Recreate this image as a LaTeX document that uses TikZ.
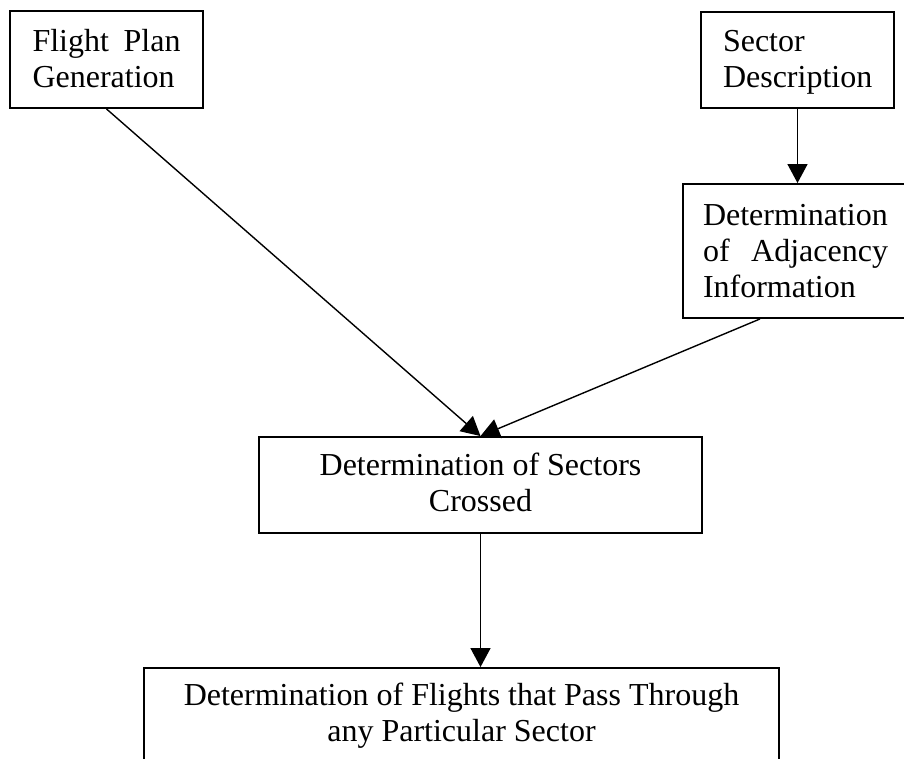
\documentclass[tikz,border=0pt]{standalone}
\usepackage{fontspec}
\setmainfont{Liberation Serif}
\usetikzlibrary{arrows.meta}
\setlength\parindent{0pt}
% uniform line height/depth so every box centres its text the same way
\newcommand\boxstrut{\rule[-5pt]{0pt}{31pt}}
\tikzset{
  procbox/.style={draw=black, line width=1.9pt, rectangle, inner sep=0pt,
    font=\fontsize{32}{36}\selectfont,
    execute at begin node=\boxstrut, execute at end node=\boxstrut},
  flow/.style={line width=1.4pt, -{Triangle[length=19pt,width=20pt]}}
}
\begin{document}
\begin{tikzpicture}[x=1pt,y=-1pt]
\useasboundingbox (0,0) rectangle (904,759);
\clip (0,0) rectangle (904,759);

\node[procbox, minimum width=193pt, minimum height=97pt,
      text width=148pt, align=left] (plan) at (106.5,59.5)
  {Flight\hfill Plan\\Generation};
\node[procbox, minimum width=193pt, minimum height=96pt,
      text width=149pt, align=left] (sector) at (797.5,60)
  {Sector\\Description};
\node[procbox, minimum width=225pt, minimum height=134pt,
      text width=185pt, align=left] (adj) at (795.5,251)
  {Determination\\of\hfill Adjacency\\Information};
\node[procbox, minimum width=443pt, minimum height=96pt,
      align=center] (crossed) at (480.5,485)
  {Determination of Sectors\\Crossed};
\node[procbox, minimum width=635pt, minimum height=95pt,
      align=center] (flights) at (461.5,715.5)
  {Determination of Flights that Pass Through\\any Particular Sector};

\draw[flow] (sector.south) -- (sector.south |- adj.north);
\draw[flow] (plan.south) -- (crossed.north);
\draw[flow] ([xshift=-35.5pt]adj.south) -- (crossed.north);
\draw[flow] (crossed.south) -- (crossed.south |- flights.north);
\end{tikzpicture}
\end{document}
